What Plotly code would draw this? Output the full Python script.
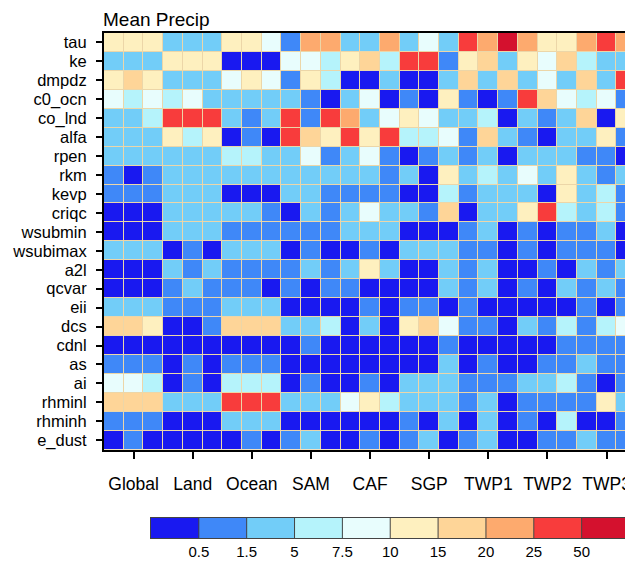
import numpy as np
import plotly.graph_objects as go

# ---------------- data ----------------
regions = ["Global", "Land", "Ocean", "SAM", "CAF", "SGP", "TWP1", "TWP2", "TWP3"]
params = ["tau", "ke", "dmpdz", "c0_ocn", "co_lnd", "alfa", "rpen", "rkm", "kevp",
          "criqc", "wsubmin", "wsubimax", "a2l", "qcvar", "eii", "dcs", "cdnl", "as",
          "ai", "rhminl", "rhminh", "e_dust"]
bounds = [0.5, 1.5, 5, 7.5, 10, 15, 20, 25, 50]
bound_labels = ["0.5", "1.5", "5", "7.5", "10", "15", "20", "25", "50"]

# values (mean precip sensitivity, read per cell; 27 columns = 9 regions x 3)
tau      = [12, 12, 12, 3, 3, 3, 12, 12, 9, 1, 22, 22, 3, 3, 22, 3, 9, 3, 35, 22, 60, 22, 12, 12, 22, 35, 22]
ke       = [3, 3, 3, 12, 12, 12, 0.3, 0.3, 0.3, 9, 9, 6, 12, 17, 6, 35, 35, 1, 12, 17, 3, 12, 9, 17, 6, 3, 3]
dmpdz    = [12, 17, 12, 3, 3, 3, 9, 12, 9, 1, 12, 6, 0.3, 0.3, 3, 0.3, 0.3, 3, 17, 3, 17, 3, 9, 3, 17, 3, 35]
c0_ocn   = [9, 6, 9, 6, 9, 3, 3, 3, 3, 3, 1, 0.3, 3, 9, 0.3, 1, 0.3, 12, 1, 0.3, 1, 35, 17, 9, 6, 9, 1]
co_lnd   = [3, 3, 6, 35, 35, 35, 3, 1, 3, 35, 1, 35, 22, 3, 9, 12, 9, 3, 3, 6, 0.3, 3, 1, 3, 17, 0.3, 12]
alfa     = [3, 3, 3, 12, 6, 12, 0.3, 1, 0.3, 35, 17, 12, 35, 12, 35, 6, 6, 9, 1, 17, 3, 1, 0.3, 3, 3, 12, 1]
rpen     = [3, 3, 3, 3, 3, 3, 6, 6, 3, 3, 9, 1, 3, 9, 1, 0.3, 1, 3, 1, 3, 0.3, 3, 3, 3, 1, 1, 0.3]
rkm      = [1, 0.3, 1, 3, 3, 3, 3, 3, 3, 3, 3, 3, 3, 3, 1, 3, 0.3, 12, 3, 6, 3, 9, 3, 12, 3, 1, 3]
kevp     = [1, 1, 1, 3, 3, 3, 0.3, 0.3, 0.3, 3, 3, 1, 1, 1, 1, 0.3, 0.3, 6, 1, 3, 3, 3, 0.3, 12, 3, 6, 1]
criqc    = [0.3, 0.3, 0.3, 3, 3, 3, 3, 3, 1, 0.3, 3, 1, 3, 9, 3, 3, 1, 17, 0.3, 3, 3, 12, 35, 6, 3, 6, 1]
wsubmin  = [0.3, 0.3, 0.3, 3, 3, 3, 1, 1, 1, 1, 1, 1, 3, 3, 3, 0.3, 0.3, 0.3, 1, 3, 0.3, 1, 0.3, 1, 1, 3, 0.3]
wsubimax = [3, 3, 3, 0.3, 1, 0.3, 3, 3, 3, 0.3, 1, 0.3, 0.3, 1, 0.3, 3, 3, 3, 1, 1, 0.3, 1, 0.3, 1, 1, 1, 0.3]
a2l      = [0.3, 0.3, 0.3, 3, 1, 3, 1, 1, 1, 1, 3, 1, 3, 12, 3, 0.3, 0.3, 3, 1, 3, 0.3, 0.3, 1, 0.3, 3, 1, 3]
qcvar    = [0.3, 0.3, 0.3, 1, 3, 1, 1, 1, 0.3, 1, 0.3, 1, 1, 0.3, 0.3, 0.3, 0.3, 3, 1, 3, 0.3, 1, 0.3, 3, 1, 3, 1]
eii      = [3, 3, 3, 1, 1, 1, 3, 3, 3, 0.3, 0.3, 0.3, 0.3, 1, 0.3, 1, 1, 0.3, 1, 0.3, 0.3, 0.3, 0.3, 0.3, 1, 0.3, 1]
dcs      = [17, 17, 12, 0.3, 0.3, 1, 17, 17, 17, 3, 3, 6, 0.3, 3, 0.3, 12, 17, 9, 1, 1, 0.3, 3, 1, 6, 1, 6, 9]
cdnl     = [0.3, 0.3, 0.3, 0.3, 0.3, 0.3, 0.3, 0.3, 0.3, 0.3, 1, 0.3, 0.3, 0.3, 0.3, 0.3, 0.3, 1, 0.3, 0.3, 0.3, 0.3, 0.3, 1, 1, 1, 1]
as_      = [1, 1, 1, 0.3, 1, 0.3, 1, 1, 1, 0.3, 0.3, 0.3, 0.3, 0.3, 0.3, 0.3, 0.3, 3, 0.3, 1, 0.3, 0.3, 1, 1, 3, 1, 1]
ai       = [9, 9, 6, 0.3, 1, 0.3, 6, 6, 6, 0.3, 1, 0.3, 0.3, 1, 0.3, 3, 3, 3, 1, 1, 1, 3, 3, 6, 1, 0.3, 1]
rhminl   = [17, 17, 17, 3, 3, 3, 35, 35, 35, 3, 3, 3, 9, 12, 6, 3, 3, 3, 1, 3, 0.3, 1, 1, 1, 1, 12, 3]
rhminh   = [1, 1, 1, 0.3, 0.3, 0.3, 3, 3, 3, 0.3, 0.3, 0.3, 0.3, 0.3, 0.3, 1, 0.3, 3, 0.3, 3, 0.3, 1, 0.3, 6, 0.3, 0.3, 1]
e_dust   = [0.3, 1, 0.3, 0.3, 0.3, 0.3, 0.3, 1, 0.3, 1, 3, 0.3, 0.3, 1, 0.3, 1, 3, 0.3, 1, 3, 0.3, 0.3, 1, 1, 3, 1, 1]

rows = [tau, ke, dmpdz, c0_ocn, co_lnd, alfa, rpen, rkm, kevp, criqc, wsubmin,
        wsubimax, a2l, qcvar, eii, dcs, cdnl, as_, ai, rhminl, rhminh, e_dust]

# ---------------- style ----------------
colors = ["#1919f0", "#3f88f8", "#72cdf8", "#b5f3fb", "#e8fdfd",
          "#fef0bf", "#fed598", "#fdaa6e", "#f83c3c", "#d4112e"]
ncat = len(colors)
cscale = []
for i, c in enumerate(colors):
    cscale.append([i / ncat, c])
    cscale.append([(i + 1) / ncat, c])

vals = np.array(rows, dtype=float)
cat = np.digitize(vals, bounds)  # 0..9 class index
ncol = vals.shape[1]
nrow = vals.shape[0]

# page has an 8px body margin; the figure is sized to fill the rest of the window
OFF = 8
WIN_W, WIN_H = 633, 561
W, H = WIN_W - OFF, WIN_H - OFF

# layout in window pixels
plot_left, plot_top, plot_bottom = 103.7, 33.3, 450.0
cb_left, cb_right, cb_top, cb_bottom = 150.7, 629.5, 518.3, 538.3

L = plot_left - OFF
T = plot_top - OFF
B = WIN_H - cb_bottom
pw = W - L
ph = H - T - B
colw = 19.72
xr_right = -0.5 + pw / colw

main_dom_y = [(WIN_H - B - plot_bottom) / ph, 1.0]
cb_dom_y = [0.0, (cb_bottom - cb_top) / ph]
cb_dom_x = [(cb_left - plot_left) / pw, min(1.0, (cb_right - plot_left) / pw)]

font = "Liberation Sans, Arial, Helvetica, sans-serif"

fig = go.Figure()
fig.add_trace(go.Heatmap(
    z=cat, x=list(range(ncol)), y=list(range(nrow)),
    zmin=-0.5, zmax=ncat - 0.5, colorscale=cscale,
    xgap=1, ygap=1, hoverinfo="skip", showscale=False,
    xaxis="x", yaxis="y",
))
# label bar (colour key)
fig.add_trace(go.Heatmap(
    z=[list(range(ncat))], x=list(range(ncat)), y=[0],
    zmin=-0.5, zmax=ncat - 0.5, colorscale=cscale,
    hoverinfo="skip", showscale=False,
    xaxis="x2", yaxis="y2",
))

shapes = []
for i in range(1, ncat):
    shapes.append(dict(type="line", xref="x2", yref="y2",
                       x0=i - 0.5, x1=i - 0.5, y0=-0.5, y1=0.5,
                       line=dict(color="#444444", width=1)))

fig.update_layout(
    width=W, height=H,
    margin=dict(l=L, r=0, t=T, b=B, pad=0, autoexpand=False),
    paper_bgcolor="white",
    plot_bgcolor="#ecd6a8",
    shapes=shapes,
    showlegend=False,
    annotations=[dict(text="Mean Precip", xref="paper", yref="paper",
                      x=0, y=1, xanchor="left", yanchor="bottom",
                      xshift=-3, yshift=1, showarrow=False,
                      font=dict(family=font, size=19, color="black"))],
    xaxis=dict(
        range=[-0.5, xr_right], anchor="y",
        tickmode="array",
        tickvals=[3 * i + 1 for i in range(len(regions))],
        ticktext=regions, tickangle=0,
        ticks="outside", ticklen=7, tickwidth=2, tickcolor="black",
        showline=True, linewidth=2, linecolor="black", mirror=True,
        showgrid=False, zeroline=False, automargin=False,
        tickfont=dict(family=font, size=17.5, color="black"),
        ticklabelstandoff=10,
        ticklabeloverflow="allow",
    ),
    yaxis=dict(
        domain=main_dom_y, anchor="x",
        range=[nrow - 0.5, -0.5],
        tickmode="array",
        tickvals=list(range(nrow)), ticktext=params,
        ticks="outside", ticklen=6, tickwidth=2, tickcolor="black",
        showline=True, linewidth=2, linecolor="black",
        showgrid=False, zeroline=False, automargin=False,
        tickfont=dict(family=font, size=16.5, color="black"),
        ticklabelstandoff=6,
    ),
    xaxis2=dict(
        domain=cb_dom_x, anchor="y2", range=[-0.5, ncat - 0.5],
        tickmode="array",
        tickvals=[i + 0.5 for i in range(len(bounds))],
        ticktext=bound_labels, tickangle=0, ticks="", ticklen=0,
        showline=True, linewidth=1, linecolor="#444444", mirror=True,
        showgrid=False, zeroline=False, automargin=False,
        tickfont=dict(family=font, size=15, color="black"),
        ticklabelstandoff=0,
    ),
    yaxis2=dict(
        domain=cb_dom_y, anchor="x2", range=[-0.5, 0.5],
        showticklabels=False, ticks="",
        showline=True, linewidth=1, linecolor="#444444", mirror=True,
        showgrid=False, zeroline=False, automargin=False,
    ),
)

fig.write_html("out.html", config={"displayModeBar": False})
